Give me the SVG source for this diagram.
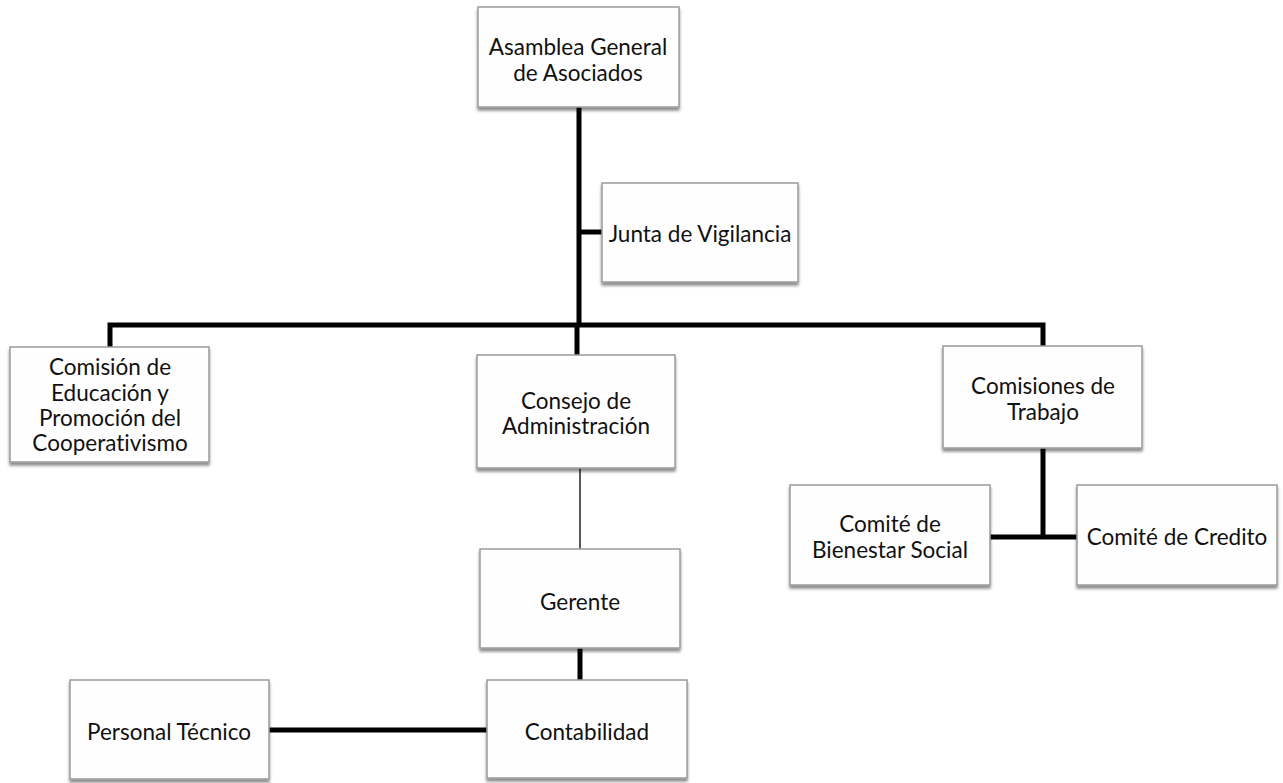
<svg xmlns="http://www.w3.org/2000/svg" width="1283" height="783" viewBox="0 0 1283 783">
<style>
.box{fill:#fefefe;stroke:#9a9a9a;stroke-width:1.5;filter:url(#sh)}
.t{font-family:Lato,"Open Sans","Liberation Sans",sans-serif;font-size:22.5px;fill:#111;text-anchor:middle;dominant-baseline:central;font-variant-ligatures:none}
.c{stroke:#000;stroke-width:5;fill:none;stroke-linejoin:miter}
.thin{stroke:#000;stroke-width:1.3;fill:none}
</style>
<defs>
<filter id="sh" x="-10%" y="-10%" width="120%" height="125%">
<feGaussianBlur in="SourceAlpha" stdDeviation="1.5"/>
<feOffset dx="0" dy="2.5" result="b"/>
<feComponentTransfer><feFuncA type="linear" slope="0.45"/></feComponentTransfer>
<feMerge><feMergeNode/><feMergeNode in="SourceGraphic"/></feMerge>
</filter>
</defs>
<rect width="1283" height="783" fill="#fff"/>
<g id="connectors">
<line class="c" x1="579" y1="107" x2="579" y2="327"/>
<line class="c" x1="579" y1="232" x2="602" y2="232"/>
<polyline class="c" points="110,347 110,325 1043,325 1043,346"/>
<line class="c" x1="577" y1="325" x2="577" y2="355"/>
<line class="thin" x1="580" y1="468" x2="580" y2="549"/>
<line class="c" x1="1043" y1="448" x2="1043" y2="539"/>
<line class="c" x1="990" y1="537" x2="1077" y2="537"/>
<line class="c" x1="580" y1="648" x2="580" y2="680"/>
<line class="c" x1="269" y1="730" x2="487" y2="730"/>
</g>
<g id="asamblea"><rect class="box" x="478" y="7" width="201" height="100"/><text class="t" x="578" y="46">Asamblea General</text><text class="t" x="578" y="72">de Asociados</text></g>
<g id="junta"><rect class="box" x="602" y="183" width="196" height="99"/><text class="t" x="700" y="233">Junta de Vigilancia</text></g>
<g id="educacion"><rect class="box" x="10" y="347" width="199" height="115"/><text class="t" x="110" y="366">Comisión de</text><text class="t" x="110" y="392">Educación y</text><text class="t" x="110" y="417">Promoción del</text><text class="t" x="110" y="442">Cooperativismo</text></g>
<g id="consejo"><rect class="box" x="477" y="355" width="198" height="113"/><text class="t" x="576" y="400">Consejo de</text><text class="t" x="576" y="425">Administración</text></g>
<g id="comisiones"><rect class="box" x="943" y="346" width="199" height="102"/><text class="t" x="1043" y="385">Comisiones de</text><text class="t" x="1043" y="411">Trabajo</text></g>
<g id="bienestar"><rect class="box" x="790" y="485" width="200" height="100"/><text class="t" x="890" y="523">Comité de</text><text class="t" x="890" y="549">Bienestar Social</text></g>
<g id="credito"><rect class="box" x="1077" y="485" width="200" height="100"/><text class="t" x="1177" y="536">Comité de Credito</text></g>
<g id="gerente"><rect class="box" x="480" y="549" width="200" height="99"/><text class="t" x="580" y="601">Gerente</text></g>
<g id="contabilidad"><rect class="box" x="487" y="680" width="200" height="98"/><text class="t" x="587" y="731">Contabilidad</text></g>
<g id="personal"><rect class="box" x="70" y="680" width="199" height="99"/><text class="t" x="169" y="731">Personal Técnico</text></g>
</svg>
